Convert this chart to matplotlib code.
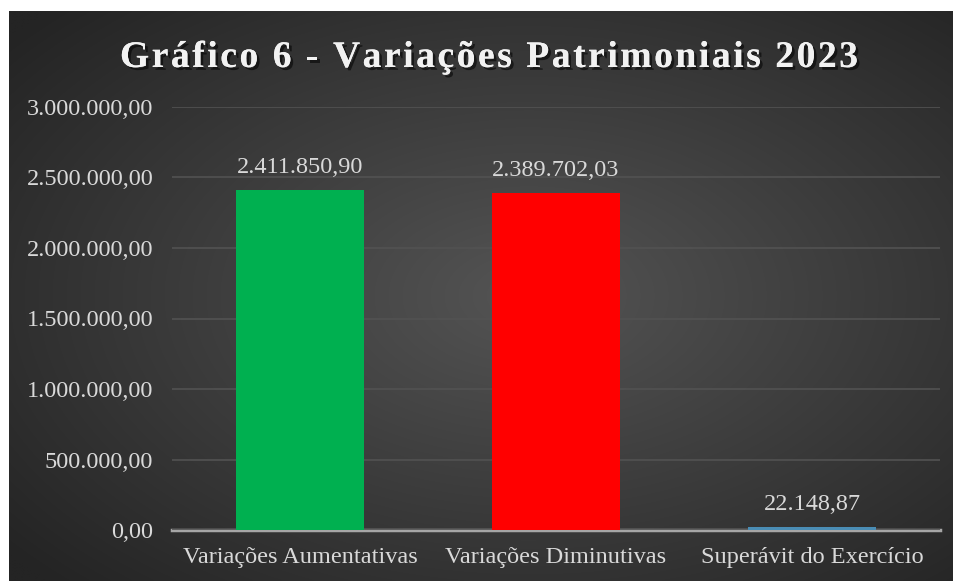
import numpy as np
import matplotlib.pyplot as plt
import matplotlib.patheffects as pe
from matplotlib.font_manager import FontProperties, findfont
from matplotlib.ft2font import FT2Font

categorias = ["Variações Aumentativas", "Variações Diminutivas", "Superávit do Exercício"]
valores = [2411850.90, 2389702.03, 22148.87]
rotulos = ["2.411.850,90", "2.389.702,03", "22.148,87"]
cores = ["#00B050", "#FF0000", "#4A8DB5"]
yticks = [0, 500000, 1000000, 1500000, 2000000, 2500000, 3000000]
titulo = "Gráfico 6 - Variações Patrimoniais 2023"


def fmt_br(v):
    s = f"{v:,.2f}"
    return s.replace(",", "X").replace(".", ",").replace("X", ".")


plt.rcParams['font.family'] = ['Liberation Serif', 'DejaVu Serif']

W, H = 954, 581
fig = plt.figure(figsize=(9.54, 5.81), dpi=100)
fig.patch.set_facecolor("white")

# fundo com gradiente radial (estilo Excel)
bg = fig.add_axes([9 / W, 0, 945 / W, 570 / H])
yy, xx = np.mgrid[0:1:300j, 0:1:500j]
r = np.sqrt(((xx - 0.55) / 0.75) ** 2 + ((yy - 0.5) / 0.75) ** 2)
r = np.clip(r / 0.95, 0, 1)
c0 = np.array([0x54, 0x54, 0x54]) / 255
c1 = np.array([0x24, 0x24, 0x24]) / 255
img = c0[None, None, :] * (1 - r[..., None]) + c1[None, None, :] * r[..., None]
bg.imshow(img, aspect="auto", extent=[0, 1, 0, 1], interpolation="bilinear")
bg.axis("off")

ax = fig.add_axes([172 / W, (H - 530) / H, (940 - 172) / W, (530 - 107) / H])
ax.patch.set_alpha(0)
x = np.arange(len(categorias))
ax.bar(x, valores, width=0.5, color=cores, zorder=2)
ax.set_xlim(-0.5, 2.5)
ax.set_ylim(0, 3000000)
ax.set_yticks(yticks)
ax.set_yticklabels([fmt_br(v) for v in yticks])
ax.set_xticks(x)
ax.set_xticklabels(categorias)
ax.tick_params(length=0, labelsize=17.5)
ax.tick_params(axis="y", pad=13.5)
ax.tick_params(axis="x", pad=12)
for t in ax.get_xticklabels() + ax.get_yticklabels():
    t.set_color("#d9d9d9")
ax.grid(axis="y", color="#525252", linewidth=1.2, zorder=0)
for s in ["top", "right", "left"]:
    ax.spines[s].set_visible(False)
ax.spines["bottom"].set_color("#a6a6a6")
ax.spines["bottom"].set_linewidth(2.5)
ax.spines["bottom"].set_zorder(1.5)

for xi, v, lab in zip(x, valores, rotulos):
    ax.text(xi, v + 120000, lab, ha="center", va="baseline", fontsize=17.5, color="#d9d9d9")

# título com espaçamento entre letras
fs = 27
fp = FontProperties(family="Liberation Serif", weight="bold", size=fs)
font = FT2Font(findfont(fp))
font.set_size(fs, 100)
adv = [font.load_char(ord(ch)).linearHoriAdvance / 65536 for ch in titulo]
largura_alvo = 858 - 120
spacing = (largura_alvo - sum(adv)) / (len(titulo) - 1)
x0 = 120
sombra = [pe.withSimplePatchShadow(offset=(2, -2), shadow_rgbFace="black", alpha=0.55), pe.Normal()]
cx = x0
for ch, a in zip(titulo, adv):
    fig.text(cx / W, (H - 67) / H, ch, fontproperties=fp, color="#f2f2f2",
             ha="left", va="baseline", path_effects=sombra)
    cx += a + spacing

fig.savefig("out.png", dpi=100)
